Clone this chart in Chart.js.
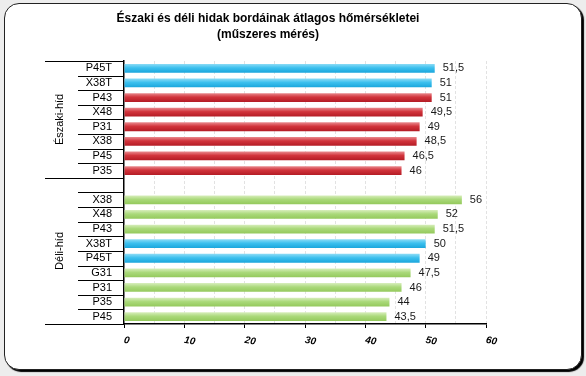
<!DOCTYPE html>
<html><head><meta charset="utf-8">
<script src="https://cdn.jsdelivr.net/npm/chart.js@4.4.0/dist/chart.umd.min.js"></script>
<style>
html,body{margin:0;padding:0;background:#ededed;width:586px;height:376px;overflow:hidden}
#frame{position:absolute;left:4px;top:3px;width:578px;height:367px;background:#fff;border:1.5px solid #222;border-radius:15px;box-shadow:2px 2px 1px #000;box-sizing:border-box}
#wrap{position:absolute;left:0;top:0;width:586px;height:376px}
</style></head><body>
<div id="frame"></div>
<div id="wrap"><canvas id="c" width="586" height="376"></canvas></div>
<script>
const titleLines = ['Északi és déli hidak bordáinak átlagos hőmérsékletei', '(műszeres mérés)'];
const groupNames = ['Északi-híd', 'Déli-híd'];
const northLabels = ['P45T', 'X38T', 'P43', 'X48', 'P31', 'X38', 'P45', 'P35'];
const northValues = [51.5, 51, 51, 49.5, 49, 48.5, 46.5, 46];
const southLabels = ['X38', 'X48', 'P43', 'X38T', 'P45T', 'G31', 'P31', 'P35', 'P45'];
const southValues = [56, 52, 51.5, 50, 49, 47.5, 46, 44, 43.5];
const xTickLabels = [0, 10, 20, 30, 40, 50, 60];

const categories = [...northLabels, '', ...southLabels];
const values = [...northValues, null, ...southValues];
const FONT = 'Arial, "Liberation Sans", sans-serif';

const palettes = {
  blue: ['#8ddcf6', '#3cc0ee', '#1ba6dc'],
  red: ['#e98a8e', '#d2343c', '#b41c25'],
  green: ['#d8eebc', '#aad97a', '#94c95c']
};
function kindFor(i) {
  const lab = categories[i];
  if (lab.endsWith('T')) return 'blue';
  return i < northLabels.length ? 'red' : 'green';
}
function fillFor(ctx) {
  const chart = ctx.chart;
  const i = ctx.dataIndex;
  const p = palettes[kindFor(i)];
  if (!chart.chartArea || !chart.scales.y) return p[1];
  const y = chart.scales.y;
  const c = y.getPixelForValue(i);
  const row = Math.abs(y.getPixelForValue(1) - y.getPixelForValue(0));
  const h = row * 0.6 / 2;
  const g = chart.ctx.createLinearGradient(0, c - h, 0, c + h);
  g.addColorStop(0, p[0]);
  g.addColorStop(0.45, p[1]);
  g.addColorStop(1, p[2]);
  return g;
}

const custom = {
  id: 'custom',
  afterDraw(chart) {
    const {ctx, chartArea: a, scales: {x, y}} = chart;
    const n = categories.length;
    const row = y.getPixelForValue(1) - y.getPixelForValue(0);
    const bound = i => y.getPixelForValue(0) - row / 2 + i * row;
    ctx.save();
    ctx.fillStyle = '#000';
    ctx.font = 'bold 12px ' + FONT;
    ctx.textAlign = 'center';
    ctx.textBaseline = 'middle';
    titleLines.forEach((t, i) => ctx.fillText(t, 268, 19 + i * 16));
    ctx.strokeStyle = '#000';
    ctx.lineWidth = 1;
    for (let i = 0; i <= n; i++) {
      const yy = Math.round(bound(i)) + 0.5;
      ctx.beginPath(); ctx.moveTo(78, yy); ctx.lineTo(a.left, yy); ctx.stroke();
    }
    for (const i of [0, northLabels.length, n]) {
      const yy = Math.round(bound(i)) + 0.5;
      ctx.beginPath(); ctx.moveTo(45, yy); ctx.lineTo(a.left, yy); ctx.stroke();
    }
    ctx.font = '11px ' + FONT;
    const ranges = [[0, northLabels.length], [northLabels.length, n]];
    ranges.forEach((r, gi) => {
      const cy = (bound(r[0]) + bound(r[1])) / 2;
      ctx.save(); ctx.translate(60, cy); ctx.rotate(-Math.PI / 2);
      ctx.fillText(groupNames[gi], 0, 0); ctx.restore();
    });
    ctx.textAlign = 'left';
    ctx.fillStyle = '#1a1a1a';
    const meta = chart.getDatasetMeta(0);
    meta.data.forEach((el, i) => {
      if (values[i] == null) return;
      ctx.fillText(String(values[i]).replace('.', ','), el.x + 8, el.y);
    });
    ctx.fillStyle = '#000';
    ctx.font = 'italic bold 10px ' + FONT;
    xTickLabels.forEach(v => {
      const px = x.getPixelForValue(v);
      ctx.save(); ctx.translate(px, 340); ctx.rotate(0.18);
      ctx.fillText(String(v), 0, 0); ctx.restore();
    });
    ctx.restore();
  }
};

new Chart(document.getElementById('c'), {
  type: 'bar',
  data: {
    labels: categories,
    datasets: [{
      data: values,
      backgroundColor: fillFor,
      borderWidth: 0,
      categoryPercentage: 1,
      barPercentage: 0.6
    }]
  },
  options: {
    indexAxis: 'y',
    responsive: false,
    animation: false,
    devicePixelRatio: 1,
    layout: {padding: {left: 0, right: 100, top: 61, bottom: 0}},
    plugins: {
      legend: {display: false},
      tooltip: {enabled: false},
      title: {display: false}
    },
    scales: {
      x: {
        type: 'linear', min: 0, max: 60, position: 'bottom',
        ticks: {display: false, stepSize: 5},
        grid: {
          color: c => (c.tick && c.tick.value === 0) ? 'rgba(0,0,0,0)' : '#e2e2e2',
          tickColor: c => (c.tick && c.tick.value % 10 === 0) ? '#000' : 'rgba(0,0,0,0)',
          tickLength: 4, lineWidth: 1
        },
        border: {display: true, color: '#000', width: 1.5, dash: [3, 2]},
        afterFit: s => { s.height = 52; }
      },
      y: {
        type: 'category', offset: true,
        ticks: {color: '#000', font: {family: FONT, size: 11}, padding: 12, autoSkip: false},
        grid: {display: false, drawTicks: false},
        border: {display: true, color: '#000', width: 1.5},
        afterFit: s => { s.width = 124; }
      }
    }
  },
  plugins: [custom]
});
</script>
</body></html>
